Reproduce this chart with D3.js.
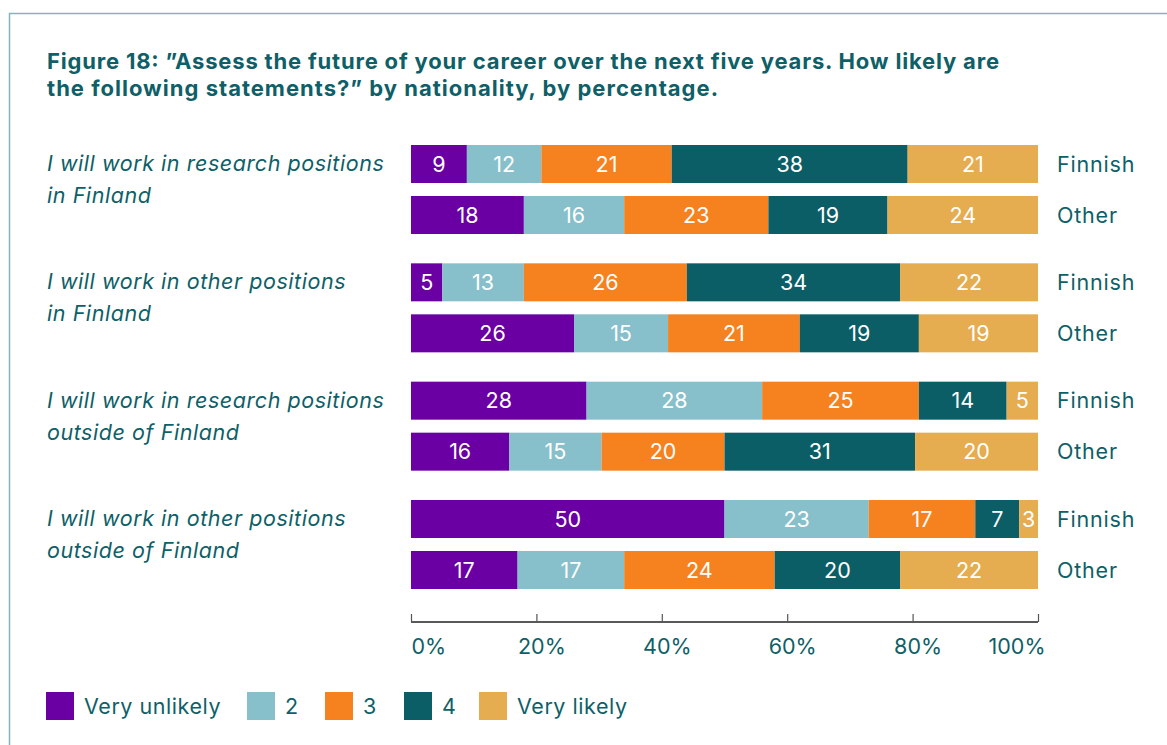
<!DOCTYPE html>
<html>
<head>
<meta charset="utf-8">
<script src="https://cdn.jsdelivr.net/npm/d3@7/dist/d3.min.js"></script>
<style>
  html, body { margin: 0; padding: 0; background: #fff; }
  svg { display: block; }
  text { font-family: Inter, "Open Sans", sans-serif; }
</style>
</head>
<body>
<svg id="chart" width="1167" height="745"></svg>
<script>
// Survey statements (each split onto two lines)
const categories = [
  ["I will work in research positions", "in Finland"],
  ["I will work in other positions", "in Finland"],
  ["I will work in research positions", "outside of Finland"],
  ["I will work in other positions", "outside of Finland"]
];
const nationalities = ["Finnish", "Other"];
const responses = ["Very unlikely", "2", "3", "4", "Very likely"];

// Percentages per statement, per nationality, in response order
const finnishValues = [
  [9, 12, 21, 38, 21],
  [5, 13, 26, 34, 22],
  [28, 28, 25, 14, 5],
  [50, 23, 17, 7, 3]
];
const otherValues = [
  [18, 16, 23, 19, 24],
  [26, 15, 21, 19, 19],
  [16, 15, 20, 31, 20],
  [17, 17, 24, 20, 22]
];
const tickValues = [0, 20, 40, 60, 80, 100];

const titleLines = [
  "Figure 18: \u201DAssess the future of your career over the next five years. How likely are",
  "the following statements?\u201D by nationality, by percentage."
];

const colors = ["#6a00a3", "#87bfcb", "#f5821f", "#0b5e66", "#e5ac50"];
const textColor = "#0e5f68";
const labelSize = 21.5;
const labelSpacing = "0.55px";

const svg = d3.select("#chart");

// panel frame (left and top rules)
svg.append("path")
  .attr("d", "M9.5,745 V13.5 H1167")
  .attr("fill", "none")
  .attr("stroke", "#86b3ba")
  .attr("stroke-width", 1.5);

// title
const title = svg.append("text")
  .attr("fill", textColor)
  .attr("font-size", 22)
  .attr("font-weight", 700);
const titleWidths = [952, 671];
titleLines.forEach((ln, k) => {
  title.append("tspan")
    .attr("x", 47).attr("y", 69 + k * 27)
    .attr("textLength", titleWidths[k])
    .attr("lengthAdjust", "spacing")
    .text(ln);
});

// scales
const x = d3.scaleLinear().domain([0, 100]).range([411, 1038]);
const yGroup = d3.scaleBand()
  .domain(d3.range(categories.length))
  .range([145, 589])
  .paddingInner(0.2479);
const yInner = d3.scaleBand()
  .domain(nationalities)
  .range([0, yGroup.bandwidth()])
  .paddingInner(0.255);
const color = d3.scaleOrdinal().domain(responses).range(colors);

// flatten rows, normalising each bar to its total
const rows = [];
categories.forEach((c, i) => {
  [finnishValues[i], otherValues[i]].forEach((vals, j) => {
    const total = d3.sum(vals);
    let acc = 0;
    const segs = vals.map((v, k) => {
      const s = { value: v, key: responses[k], x0: acc / total * 100 };
      acc += v;
      s.x1 = acc / total * 100;
      return s;
    });
    rows.push({ group: i, nat: nationalities[j], segs });
  });
});

const rowG = svg.append("g").selectAll("g.row")
  .data(rows)
  .join("g")
  .attr("class", "row")
  .attr("transform", d => `translate(0,${yGroup(d.group) + yInner(d.nat)})`);

rowG.selectAll("rect")
  .data(d => d.segs)
  .join("rect")
  .attr("x", d => x(d.x0))
  .attr("width", d => x(d.x1) - x(d.x0))
  .attr("y", 0)
  .attr("height", yInner.bandwidth())
  .attr("fill", d => color(d.key));

rowG.selectAll("text.val")
  .data(d => d.segs)
  .join("text")
  .attr("class", "val")
  .attr("x", d => (x(d.x0) + x(d.x1)) / 2)
  .attr("y", yInner.bandwidth() / 2)
  .attr("dy", "0.36em")
  .attr("text-anchor", "middle")
  .attr("fill", "#fff")
  .attr("font-size", labelSize)
  .text(d => d.value);

// nationality labels
rowG.append("text")
  .attr("x", 1057)
  .attr("y", yInner.bandwidth() / 2)
  .attr("dy", "0.36em")
  .attr("fill", textColor)
  .attr("font-size", labelSize)
  .attr("letter-spacing", "0.8px")
  .text(d => d.nat);

// statement labels
svg.append("g").selectAll("text")
  .data(categories)
  .join("text")
  .attr("fill", textColor)
  .attr("font-size", labelSize)
  .attr("font-style", "italic")
  .attr("letter-spacing", labelSpacing)
  .each(function(lines, i) {
    const t = d3.select(this);
    const cy = yGroup(i) + yInner("Finnish") + yInner.bandwidth() / 2;
    lines.forEach((ln, k) => {
      t.append("tspan").attr("x", 47).attr("y", cy + 7 + k * 32).text(ln);
    });
  });

// x axis
const axis = d3.axisTop(x)
  .tickValues(tickValues)
  .tickSize(8)
  .tickFormat(d => d + "%");
const axG = svg.append("g")
  .attr("transform", "translate(0,622)")
  .call(axis);
axG.select(".domain").attr("stroke", "#222").attr("stroke-width", 1.5)
  .attr("d", `M${x(0)},0H${x(100)}`);
axG.selectAll(".tick line").attr("stroke", "#555").attr("stroke-width", 1.2);
axG.selectAll(".tick text")
  .attr("y", 32)
  .attr("dy", 0)
  .attr("fill", textColor)
  .attr("font-size", labelSize)
  .attr("font-family", "Inter, sans-serif")
  .attr("text-anchor", d => d === 0 ? "start" : d === 100 ? "end" : "middle")
  .attr("dx", d => d === 0 ? 0 : d === 100 ? 7 : 5);

// legend
const legendX = [46, 247, 325, 404, 479];
const lg = svg.append("g").selectAll("g")
  .data(responses)
  .join("g")
  .attr("transform", (d, i) => `translate(${legendX[i]},692)`);
lg.append("rect")
  .attr("width", 28).attr("height", 28)
  .attr("fill", d => color(d));
lg.append("text")
  .attr("x", 38).attr("y", 14).attr("dy", "0.36em")
  .attr("fill", textColor)
  .attr("font-size", labelSize)
  .attr("letter-spacing", labelSpacing)
  .text(d => d);
</script>
</body>
</html>
